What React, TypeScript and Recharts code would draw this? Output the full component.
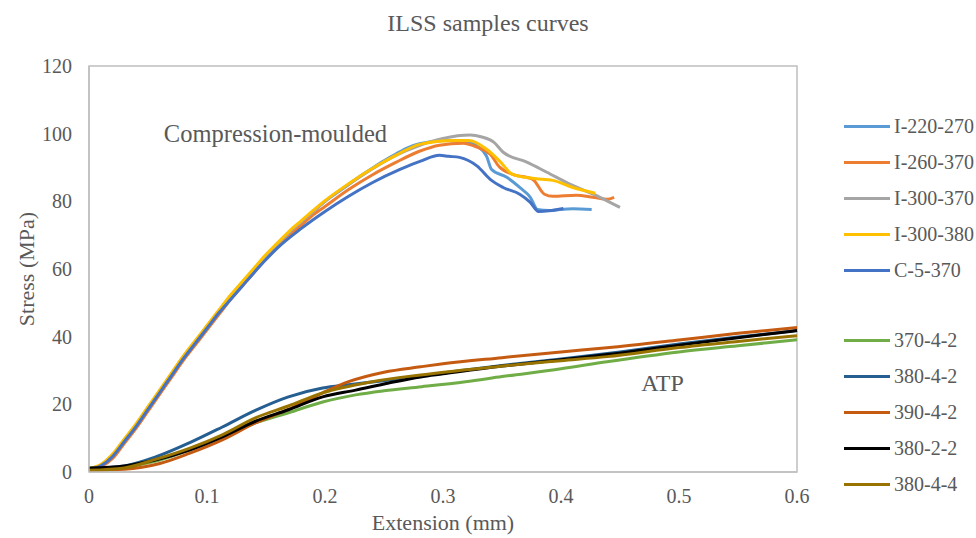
import React from 'react';
import { LineChart, Line, XAxis, YAxis, ReferenceArea, ReferenceDot } from 'recharts';

type P = { x: number; s: number };
const mk = (xs: number[], ss: number[]): P[] => xs.map((x, i) => ({ x, s: ss[i] }));

// Compression-moulded samples
const i220x = [0, 0.01, 0.02, 0.03, 0.04, 0.05, 0.06, 0.07, 0.08, 0.09, 0.1, 0.11, 0.12, 0.13, 0.14, 0.15, 0.16, 0.17, 0.18, 0.19, 0.2, 0.21, 0.22, 0.23, 0.24, 0.25, 0.26, 0.27, 0.28, 0.29, 0.3, 0.317, 0.329, 0.337, 0.341, 0.354, 0.365, 0.374, 0.38, 0.39, 0.399, 0.41, 0.426];
const i220s = [1, 2, 5, 9.5, 14, 19, 24, 29, 34, 38.5, 43, 47.5, 52, 56, 60, 64, 67.5, 71, 74, 77, 80, 82.5, 85, 87.5, 89.8, 92, 94, 95.8, 97, 97.6, 98, 97.8, 96.3, 93.3, 89.5, 87.1, 84.1, 81.2, 77.6, 77.3, 77.6, 77.8, 77.6];

const i260x = [0, 0.01, 0.02, 0.03, 0.04, 0.05, 0.06, 0.07, 0.08, 0.09, 0.1, 0.11, 0.12, 0.13, 0.14, 0.15, 0.16, 0.17, 0.18, 0.19, 0.2, 0.22, 0.24, 0.26, 0.28, 0.297, 0.317, 0.329, 0.34, 0.348, 0.359, 0.376, 0.386, 0.393, 0.413, 0.427, 0.439, 0.445];
const i260s = [0.5, 1.5, 4, 8.5, 13, 18, 23, 28, 33, 37.5, 42, 46.5, 51, 55, 59, 63, 66.5, 70, 73, 76, 78.5, 83.5, 87.8, 91.5, 94.8, 96.6, 97.2, 96, 93.9, 90.1, 88, 86.5, 82.1, 81.5, 81.8, 81.2, 80.6, 81.2];

const i300ax = [0, 0.01, 0.02, 0.03, 0.04, 0.05, 0.06, 0.07, 0.08, 0.09, 0.1, 0.11, 0.12, 0.13, 0.14, 0.15, 0.16, 0.17, 0.18, 0.19, 0.2, 0.22, 0.24, 0.26, 0.28, 0.3, 0.323, 0.333, 0.343, 0.351, 0.371, 0.388, 0.408, 0.433, 0.45];
const i300as = [1, 2, 5, 9.5, 14, 19, 24, 29, 34, 38.5, 43, 47.5, 52, 56, 60, 64, 67.5, 71, 74, 77, 80, 85, 89.6, 93.6, 96.5, 98.6, 99.6, 99, 97.5, 94.5, 91.6, 88.6, 85, 81.2, 78.2];

const i300bx = [0, 0.01, 0.02, 0.03, 0.04, 0.05, 0.06, 0.07, 0.08, 0.09, 0.1, 0.11, 0.12, 0.13, 0.14, 0.15, 0.16, 0.17, 0.18, 0.19, 0.2, 0.22, 0.24, 0.26, 0.281, 0.308, 0.322, 0.337, 0.348, 0.359, 0.376, 0.393, 0.41, 0.429];
const i300bs = [1, 2.2, 5.3, 9.8, 14.3, 19.3, 24.3, 29.3, 34.3, 38.8, 43.3, 47.8, 52.3, 56.3, 60.3, 64.3, 67.8, 71.3, 74.3, 77.3, 80.2, 85.2, 89.7, 93.6, 96.9, 98, 98, 95.4, 91.9, 88, 86.8, 86.2, 84.1, 82.4];

const c5x = [0, 0.01, 0.02, 0.03, 0.04, 0.05, 0.06, 0.07, 0.08, 0.09, 0.1, 0.11, 0.12, 0.13, 0.14, 0.15, 0.16, 0.18, 0.2, 0.22, 0.24, 0.264, 0.281, 0.297, 0.305, 0.314, 0.329, 0.34, 0.351, 0.365, 0.374, 0.381, 0.39, 0.402];
const c5s = [0.8, 1.8, 4.6, 9, 13.5, 18.5, 23.5, 28.5, 33.5, 38, 42.5, 47, 51, 55, 59, 62.8, 66.3, 72, 77, 81.5, 85.5, 89.5, 91.9, 93.6, 93.3, 93, 90.4, 86.5, 84.1, 82.1, 79.7, 77, 77.2, 77.9];

// ATP samples
const a370x = [0, 0.03, 0.06, 0.085, 0.113, 0.141, 0.169, 0.198, 0.226, 0.25, 0.282, 0.319, 0.35, 0.4, 0.439, 0.5, 0.55, 0.6];
const a370s = [0.8, 1.5, 3.5, 6.5, 10.4, 14.5, 17.5, 20.7, 22.8, 24, 25.2, 26.7, 28.2, 30.5, 32.6, 35.5, 37.3, 39.1];

const a380x = [0, 0.03, 0.057, 0.085, 0.113, 0.141, 0.169, 0.198, 0.22, 0.25, 0.3, 0.35, 0.4, 0.45, 0.5, 0.55, 0.6];
const a380s = [1, 1.8, 4.5, 8.6, 13.3, 18.2, 22.2, 24.8, 25.8, 27, 29.3, 31.5, 33.4, 35.5, 37.8, 39.9, 41.8];

const a390x = [0, 0.03, 0.06, 0.085, 0.113, 0.141, 0.169, 0.198, 0.22, 0.25, 0.281, 0.3, 0.35, 0.4, 0.439, 0.5, 0.55, 0.6];
const a390s = [0.5, 0.8, 2.5, 5.5, 9.5, 14.5, 18.5, 23.4, 26.7, 29.5, 31.1, 32, 33.8, 35.5, 36.7, 39, 41, 42.7];

const a3822x = [0, 0.03, 0.057, 0.085, 0.113, 0.141, 0.169, 0.198, 0.226, 0.254, 0.281, 0.3, 0.35, 0.4, 0.439, 0.5, 0.55, 0.6];
const a3822s = [1.2, 1.8, 3.6, 6.5, 10.4, 15, 18.4, 22.2, 24.2, 26.3, 28.1, 29, 31.3, 33.2, 34.7, 37.5, 39.7, 41.8];

const a3844x = [0, 0.03, 0.057, 0.085, 0.113, 0.141, 0.169, 0.198, 0.24, 0.281, 0.35, 0.4, 0.439, 0.5, 0.55, 0.6];
const a3844s = [0.5, 1.2, 3.8, 7, 11, 16, 19.5, 23.4, 26.7, 28.7, 31.3, 32.9, 34.1, 36.8, 38.6, 40.3];

const xTicks = [0, 0.1, 0.2, 0.3, 0.4, 0.5, 0.6];
const yTicks = [0, 20, 40, 60, 80, 100, 120];

const series = [
  { name: 'I-220-270', color: '#5B9BD5', data: mk(i220x, i220s) },
  { name: 'I-260-370', color: '#ED7D31', data: mk(i260x, i260s) },
  { name: 'I-300-370', color: '#A5A5A5', data: mk(i300ax, i300as) },
  { name: 'I-300-380', color: '#FFC000', data: mk(i300bx, i300bs) },
  { name: 'C-5-370', color: '#4472C4', data: mk(c5x, c5s) },
  { name: '370-4-2', color: '#70AD47', data: mk(a370x, a370s) },
  { name: '380-4-2', color: '#255E91', data: mk(a380x, a380s) },
  { name: '390-4-2', color: '#C55A11', data: mk(a390x, a390s) },
  { name: '380-2-2', color: '#000000', data: mk(a3822x, a3822s) },
  { name: '380-4-4', color: '#997300', data: mk(a3844x, a3844s) },
];

const FONT = '"Liberation Serif", "DejaVu Serif", serif';
const TXT = '#595959';

export default function App() {
  return (
    <div style={{ position: 'absolute', left: 0, top: 0, width: 976, height: 538, background: '#fff', fontFamily: FONT }}>
      <div style={{ position: 'absolute', left: 0, width: 976, top: 10, textAlign: 'center', fontSize: 24, color: TXT }}>
        ILSS samples curves
      </div>
      <div style={{ position: 'absolute', left: 89, width: 708, top: 510, textAlign: 'center', fontSize: 22, color: TXT }}>
        Extension (mm)
      </div>
      <div style={{ position: 'absolute', left: 27, top: 269, width: 0, height: 0 }}>
        <div style={{ position: 'absolute', transform: 'translate(-50%, -50%) rotate(-90deg)', whiteSpace: 'nowrap', fontSize: 22, color: TXT }}>
          Stress (MPa)
        </div>
      </div>
      <div style={{ position: 'absolute', left: 844, top: 108, fontSize: 20, color: TXT }}>
        {series.map((sr, i) => (
          <React.Fragment key={sr.name}>
            {i === 5 && <div style={{ height: 34 }} />}
            <div style={{ display: 'flex', alignItems: 'center', height: 36, whiteSpace: 'nowrap' }}>
              <span style={{ display: 'inline-block', width: 46, height: 3, background: sr.color, marginRight: 4 }} />
              <span>{sr.name}</span>
            </div>
          </React.Fragment>
        ))}
      </div>
      <LineChart width={976} height={538} margin={{ top: 66, right: 179, bottom: 36, left: 29 }} style={{ position: 'absolute', left: 0, top: 0 }}>
        <ReferenceArea x1={0} x2={0.6} y1={0} y2={120} fill="none" stroke="#BFBFBF" strokeWidth={1.5} />
        <XAxis
          type="number"
          dataKey="x"
          domain={[0, 0.6]}
          ticks={xTicks}
          tickFormatter={(v: number) => String(v)}
          height={30}
          axisLine={{ stroke: '#BFBFBF', strokeWidth: 1.5 }}
          tickLine={false}
          tickSize={6}
          tickMargin={11}
          tick={{ fontFamily: FONT, fontSize: 20, fill: TXT }}
        />
        <YAxis
          type="number"
          dataKey="s"
          domain={[0, 120]}
          ticks={yTicks}
          width={60}
          axisLine={{ stroke: '#BFBFBF', strokeWidth: 1.5 }}
          tickLine={false}
          tickSize={6}
          tickMargin={11}
          tick={{ fontFamily: FONT, fontSize: 20, fill: TXT }}
        />
        {series.map((sr) => (
          <Line
            key={sr.name}
            name={sr.name}
            data={sr.data}
            dataKey="s"
            type="monotone"
            stroke={sr.color}
            strokeWidth={3}
            dot={false}
            activeDot={false}
            isAnimationActive={false}
          />
        ))}
        <ReferenceDot x={0.158} y={100} r={0} fill="none" stroke="none"
          label={{ value: 'Compression-moulded', position: 'center', fill: TXT, fontSize: 24.5, fontFamily: FONT }} />
        <ReferenceDot x={0.486} y={26.4} r={0} fill="none" stroke="none"
          label={{ value: 'ATP', position: 'center', fill: TXT, fontSize: 24, fontFamily: FONT }} />
      </LineChart>
    </div>
  );
}
